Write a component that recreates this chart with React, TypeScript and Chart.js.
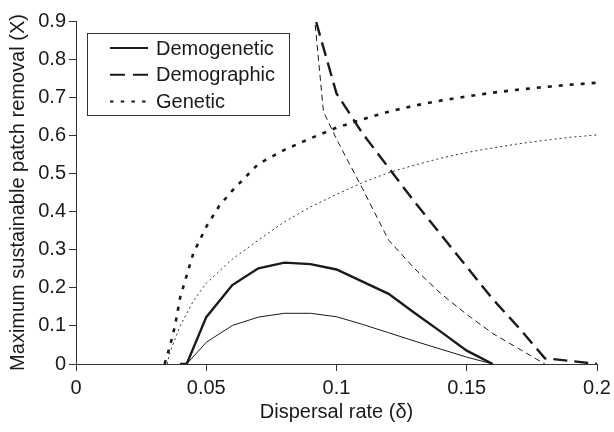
import React, { useEffect, useRef } from 'react';
import { Chart, registerables } from 'chart.js';

Chart.register(...registerables);

const seriesNames = ['Demogenetic', 'Demographic', 'Genetic'];
const xTickLabels = ['0', '0.05', '0.1', '0.15', '0.2'];
const yTickLabels = ['0', '0.1', '0.2', '0.3', '0.4', '0.5', '0.6', '0.7', '0.8', '0.9'];
const xTitle = 'Dispersal rate (δ)';
const yTitle = 'Maximum sustainable patch removal (X)';

const demogeneticX = [0.04, 0.0425, 0.05, 0.06, 0.07, 0.08, 0.09, 0.1, 0.11, 0.12, 0.13, 0.14, 0.15, 0.16];
const demogeneticThickY = [0, 0, 0.123, 0.207, 0.251, 0.266, 0.262, 0.248, 0.216, 0.184, 0.134, 0.085, 0.035, 0];
const demogeneticThinY = [0, 0, 0.057, 0.101, 0.123, 0.133, 0.133, 0.124, 0.104, 0.082, 0.06, 0.039, 0.018, 0];

const demographicThickX = [0.09, 0.1, 0.11, 0.12, 0.13, 0.14, 0.15, 0.16, 0.17, 0.18, 0.19, 0.2];
const demographicThickY = [0.95, 0.71, 0.605, 0.515, 0.425, 0.34, 0.255, 0.17, 0.095, 0.015, 0.008, 0];
const demographicThinX = [0.09, 0.095, 0.1, 0.11, 0.12, 0.13, 0.14, 0.15, 0.16, 0.17, 0.18];
const demographicThinY = [1.02, 0.662, 0.59, 0.46, 0.325, 0.25, 0.185, 0.13, 0.08, 0.04, 0];

const geneticThickX = [0.034, 0.036, 0.038, 0.04, 0.045, 0.05, 0.055, 0.06, 0.07, 0.08, 0.09, 0.1, 0.11, 0.12, 0.13, 0.14, 0.15, 0.16, 0.17, 0.18, 0.19, 0.2];
const geneticThickY = [0, 0.045, 0.1, 0.175, 0.29, 0.36, 0.415, 0.455, 0.525, 0.562, 0.592, 0.62, 0.642, 0.662, 0.678, 0.691, 0.702, 0.712, 0.72, 0.727, 0.733, 0.738];
const geneticThinX = [0.035, 0.036, 0.038, 0.04, 0.045, 0.05, 0.06, 0.07, 0.08, 0.09, 0.1, 0.11, 0.12, 0.13, 0.14, 0.15, 0.16, 0.17, 0.18, 0.19, 0.2];
const geneticThinY = [0, 0.03, 0.065, 0.1, 0.165, 0.212, 0.275, 0.325, 0.373, 0.412, 0.445, 0.476, 0.502, 0.522, 0.54, 0.555, 0.567, 0.578, 0.587, 0.595, 0.601];

const FONT = '"Liberation Sans", Arial, Helvetica, sans-serif';
const INK = '#1a1a1a';
const FS = 20;

const toPoints = (xs: number[], ys: number[]) => xs.map((x, i) => ({ x, y: ys[i] }));

const legendStyles = [
  { dash: [] as number[], width: 2 },
  { dash: [15, 8], width: 2 },
  { dash: [3.5, 7.2], width: 2 },
];

const legendPlugin = {
  id: 'boxLegend',
  afterDraw(chart: any) {
    const { ctx, chartArea } = chart;
    const x0 = Math.round(chartArea.left + 11);
    const y0 = Math.round(chartArea.top + 12);
    const w = 202;
    const h = 82;
    ctx.save();
    ctx.setLineDash([]);
    ctx.strokeStyle = '#333';
    ctx.lineWidth = 1;
    ctx.strokeRect(x0 + 0.5, y0 + 0.5, w, h);
    ctx.font = `${FS}px ${FONT}`;
    ctx.textBaseline = 'middle';
    ctx.textAlign = 'left';
    ctx.fillStyle = INK;
    legendStyles.forEach((st, i) => {
      const y = y0 + 15 + i * 26.7;
      ctx.beginPath();
      ctx.setLineDash(st.dash);
      ctx.lineWidth = st.width;
      ctx.strokeStyle = INK;
      ctx.lineCap = 'butt';
      ctx.moveTo(x0 + 23, y);
      ctx.lineTo(x0 + 61, y);
      ctx.stroke();
      ctx.setLineDash([]);
      ctx.fillText(seriesNames[i], x0 + 69, y + 1);
    });
    ctx.restore();
  },
};

export default function App() {
  const canvasRef = useRef<HTMLCanvasElement | null>(null);

  useEffect(() => {
    const canvas = canvasRef.current;
    if (!canvas) return;
    const common = { pointRadius: 0, pointHoverRadius: 0, fill: false, tension: 0, borderColor: INK, borderCapStyle: 'butt' as const };
    const chart = new Chart(canvas, {
      type: 'line',
      data: {
        datasets: [
          { ...common, label: seriesNames[0], data: toPoints(demogeneticX, demogeneticThickY), borderWidth: 2.4, borderDash: [] },
          { ...common, label: seriesNames[0] + ' (thin)', data: toPoints(demogeneticX, demogeneticThinY), borderWidth: 1, borderDash: [] },
          { ...common, label: seriesNames[1], data: toPoints(demographicThickX, demographicThickY), borderWidth: 2.4, borderDash: [14, 7] },
          { ...common, label: seriesNames[1] + ' (thin)', data: toPoints(demographicThinX, demographicThinY), borderWidth: 1, borderDash: [6, 4] },
          { ...common, label: seriesNames[2], data: toPoints(geneticThickX, geneticThickY), borderWidth: 2.6, borderDash: [4, 7] },
          { ...common, label: seriesNames[2] + ' (thin)', data: toPoints(geneticThinX, geneticThinY), borderWidth: 1, borderDash: [2, 3], borderColor: '#333' },
        ],
      },
      options: {
        animation: false,
        responsive: false,
        maintainAspectRatio: false,
        events: [],
        layout: { padding: { left: 0, right: 17, top: 21, bottom: 0 } },
        plugins: { legend: { display: false }, tooltip: { enabled: false }, title: { display: false } },
        scales: {
          x: {
            type: 'linear',
            min: 0,
            max: 0.2,
            border: { display: true, color: '#333', width: 1 },
            grid: { display: true, drawOnChartArea: false, drawTicks: true, tickLength: 7, color: '#333', lineWidth: 1 },
            ticks: {
              stepSize: 0.05,
              padding: 5,
              color: INK,
              font: { family: FONT, size: FS },
              maxRotation: 0,
              callback: (v: any) => xTickLabels[Math.round(Number(v) / 0.05)] ?? '',
            },
            title: { display: true, text: xTitle, color: INK, font: { family: FONT, size: FS }, padding: { top: 4, bottom: 8 } },
            afterFit: (s: any) => {
              s.height = 68;
              s.paddingLeft = 0;
              s.paddingRight = 0;
            },
          },
          y: {
            type: 'linear',
            min: 0,
            max: 0.9,
            border: { display: true, color: '#333', width: 1 },
            grid: { display: true, drawOnChartArea: false, drawTicks: true, tickLength: 7, color: '#333', lineWidth: 1 },
            ticks: {
              stepSize: 0.1,
              padding: 3,
              color: INK,
              font: { family: FONT, size: FS },
              callback: (v: any) => yTickLabels[Math.round(Number(v) * 10)] ?? '',
            },
            title: { display: true, text: yTitle, color: INK, font: { family: FONT, size: FS }, padding: { top: 6, bottom: 4 } },
            afterFit: (s: any) => {
              s.width = 76;
              s.paddingTop = 0;
              s.paddingBottom = 0;
            },
          },
        },
      },
      plugins: [legendPlugin],
    });
    return () => chart.destroy();
  }, []);

  return (
    <div style={{ position: 'fixed', left: 0, top: 0, width: 614, height: 432, background: '#fff' }}>
      <canvas ref={canvasRef} width={614} height={432} style={{ display: 'block', width: 614, height: 432 }} />
    </div>
  );
}
